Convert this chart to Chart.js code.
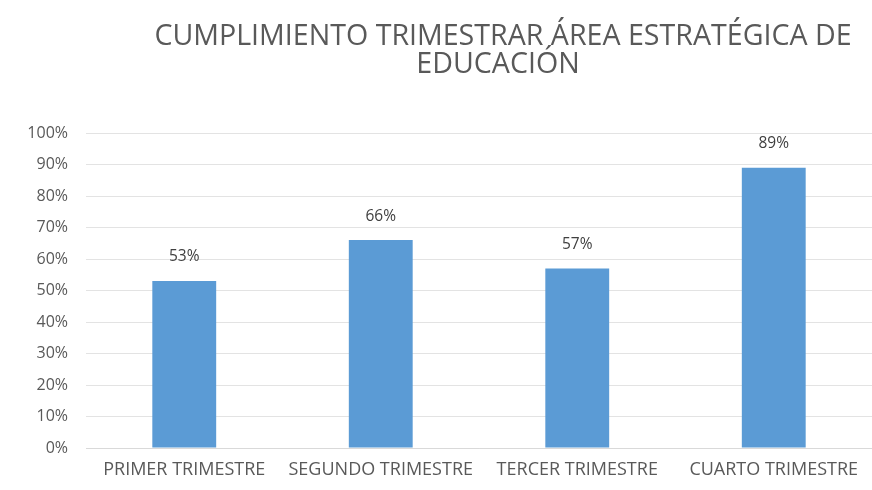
<!DOCTYPE html>
<html><head><meta charset="utf-8">
<script src="https://cdn.jsdelivr.net/npm/chart.js@4/dist/chart.umd.min.js"></script>
<style>html,body{margin:0;padding:0;background:#fff;}#wrap{width:872px;height:490px;position:relative;}</style>
</head><body><div id="wrap"><canvas id="c" width="872" height="490"></canvas></div>
<script>
const categories = ["PRIMER TRIMESTRE", "SEGUNDO TRIMESTRE", "TERCER TRIMESTRE", "CUARTO TRIMESTRE"];
const values = [53, 66, 57, 89];
const titleLines = ["CUMPLIMIENTO TRIMESTRAR ÁREA ESTRATÉGICA DE", "EDUCACIÓN"];
const yTicks = [0, 10, 20, 30, 40, 50, 60, 70, 80, 90, 100];

const FONT = "'Open Sans', sans-serif";
const titlePlugin = {
  id: 'titleP',
  afterDraw(chart) {
    const ctx = chart.ctx;
    ctx.save();
    ctx.fillStyle = '#595959';
    ctx.font = "28.6px " + FONT;
    ctx.textAlign = 'center';
    ctx.textBaseline = 'middle';
    ctx.fillText(titleLines[0], 503, 37);
    ctx.fillText(titleLines[1], 498, 65);
    ctx.restore();
  }
};
const labelPlugin = {
  id: 'labelsP',
  afterDatasetsDraw(chart) {
    const ctx = chart.ctx;
    const meta = chart.getDatasetMeta(0);
    ctx.save();
    ctx.fillStyle = '#404040';
    ctx.font = "15.5px " + FONT;
    ctx.textAlign = 'center';
    ctx.textBaseline = 'middle';
    meta.data.forEach((bar, i) => {
      ctx.fillText(values[i] + '%', bar.x, bar.y - 24);
    });
    ctx.restore();
  }
};
new Chart(document.getElementById('c'), {
  type: 'bar',
  data: { labels: categories, datasets: [{ data: values, backgroundColor: '#5B9BD5', barPercentage: 0.65, categoryPercentage: 0.5 }] },
  options: {
    responsive: false, animation: false,
    layout: { padding: { top: 133, right: 0, left: 0, bottom: 0 } },
    plugins: { legend: { display: false }, title: { display: false }, tooltip: { enabled: false } },
    scales: {
      x: {
        grid: { display: false, drawTicks: false },
        border: { display: true, color: '#d9d9d9' },
        ticks: { color: '#595959', font: { family: FONT, size: 18 }, padding: 11, maxRotation: 0, autoSkip: false },
        afterFit(s) { s.height = 42; }
      },
      y: {
        min: 0, max: 100,
        afterBuildTicks(s) { s.ticks = yTicks.map(v => ({ value: v })); },
        grid: { color: '#e3e3e3', drawTicks: false },
        border: { display: false },
        ticks: { color: '#595959', font: { family: FONT, size: 16 }, padding: 18, callback: v => v + '%' },
        afterFit(s) { s.width = 86; }
      }
    }
  },
  plugins: [titlePlugin, labelPlugin]
});
</script></body></html>
